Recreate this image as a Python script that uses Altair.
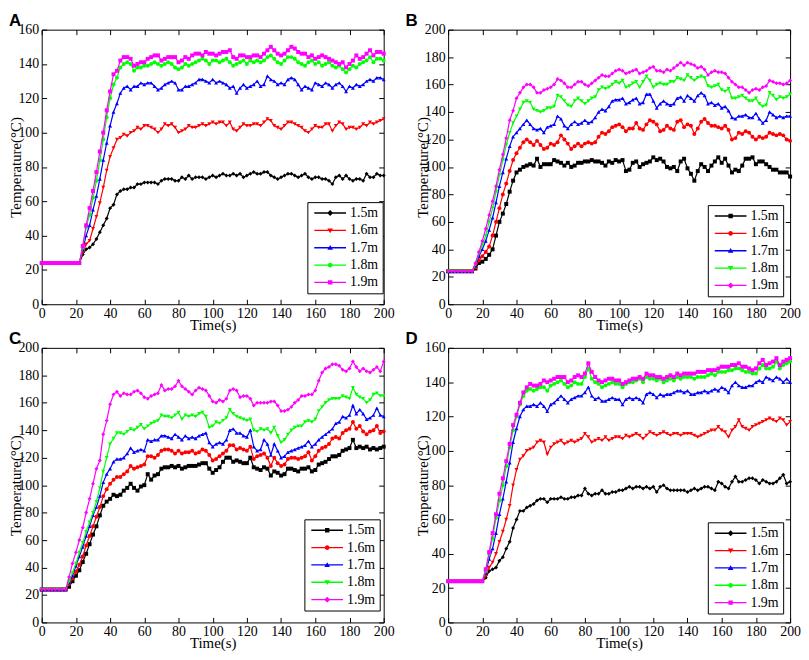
import altair as alt
import pandas as pd

TIME = list(range(0, 201, 2))
SERIES = ["1.5m", "1.6m", "1.7m", "1.8m", "1.9m"]
COLORS = ["#000000", "#ff0000", "#0000ff", "#00ff00", "#ff00ff"]
SHAPES_AD = ["diamond", "triangle-down", "triangle-up", "circle", "square"]
SHAPES_BC = ["square", "circle", "triangle-up", "triangle-down", "diamond"]
X_TICKS = list(range(0, 201, 20))

# ---------------- Panel A ----------------
A_15 = [24, 24, 24, 24, 24, 24, 24, 24, 24, 24,
        24, 24, 29, 32, 33, 35, 38, 42, 46, 50,
        56, 58, 64, 66, 67, 67, 68, 68, 70, 70,
        71, 71, 71, 71, 70, 72, 73, 73, 73, 72,
        72, 74, 73, 75, 73, 74, 74, 74, 73, 74,
        75, 74, 75, 76, 75, 75, 76, 75, 76, 74,
        75, 76, 77, 76, 76, 77, 77, 75, 74, 73,
        74, 75, 76, 76, 75, 74, 75, 76, 74, 73,
        74, 74, 73, 73, 72, 70, 74, 75, 73, 75,
        73, 72, 73, 73, 72, 76, 74, 74, 76, 75,
        75]
A_16 = [24, 24, 24, 24, 24, 24, 24, 24, 24, 24,
        24, 24, 30, 35, 37, 44, 51, 59, 68, 78,
        86, 91, 96, 97, 99, 98, 100, 101, 103, 102,
        104, 104, 103, 102, 100, 102, 105, 104, 105, 103,
        100, 101, 102, 104, 103, 103, 104, 105, 104, 105,
        106, 105, 106, 106, 104, 106, 102, 101, 103, 105,
        104, 104, 105, 105, 104, 106, 108, 107, 104, 103,
        102, 104, 106, 106, 105, 104, 103, 101, 100, 102,
        104, 103, 103, 105, 105, 101, 104, 106, 105, 102,
        103, 103, 102, 103, 105, 104, 106, 105, 106, 107,
        108]
A_17 = [24, 24, 24, 24, 24, 24, 24, 24, 24, 24,
        24, 24, 32, 40, 46, 55, 63, 73, 84, 94,
        104, 112, 117, 123, 126, 127, 125, 127, 127, 129,
        128, 129, 129, 127, 125, 126, 128, 129, 130, 129,
        125, 125, 127, 127, 128, 129, 131, 131, 130, 129,
        131, 129, 130, 129, 128, 126, 127, 123, 126, 128,
        126, 127, 128, 130, 127, 128, 133, 131, 130, 128,
        129, 128, 131, 132, 131, 128, 125, 127, 126, 125,
        129, 128, 127, 129, 128, 126, 128, 129, 127, 124,
        127, 126, 128, 127, 128, 130, 131, 130, 132, 132,
        131]
A_18 = [24, 24, 24, 24, 24, 24, 24, 24, 24, 24,
        24, 24, 33, 45, 52, 62, 72, 84, 96, 109,
        120, 128, 132, 138, 140, 141, 140, 136, 138, 138,
        139, 139, 140, 141, 140, 139, 140, 141, 140, 138,
        137, 138, 140, 139, 140, 141, 142, 143, 142, 140,
        142, 142, 141, 142, 143, 141, 139, 140, 141, 142,
        140, 142, 141, 142, 141, 142, 144, 145, 143, 141,
        140, 142, 144, 144, 143, 141, 140, 139, 141, 142,
        140, 141, 139, 140, 141, 139, 138, 139, 137, 135,
        137, 139, 138, 140, 141, 142, 144, 141, 143, 143,
        142]
A_19 = [24, 24, 24, 24, 24, 24, 24, 24, 24, 24,
        24, 24, 34, 46, 56, 66, 77, 89, 100, 113,
        124, 134, 136, 142, 144, 144, 143, 139, 140, 141,
        141, 143, 144, 145, 145, 142, 143, 144, 144, 144,
        141, 142, 144, 143, 145, 146, 146, 145, 147, 146,
        146, 145, 146, 147, 147, 148, 144, 143, 145, 145,
        144, 144, 145, 145, 144, 146, 148, 150, 148, 146,
        145, 146, 148, 150, 149, 147, 146, 146, 144, 145,
        143, 144, 145, 144, 143, 142, 141, 140, 141, 138,
        140, 142, 145, 143, 144, 146, 148, 145, 147, 147,
        146]

# ---------------- Panel B ----------------
B_15 = [24, 24, 24, 24, 24, 24, 24, 24, 26, 30,
        31, 33, 36, 40, 50, 60, 66, 73, 82, 90,
        96, 98, 100, 101, 102, 101, 106, 100, 102, 102,
        102, 105, 104, 103, 101, 103, 100, 101, 103, 103,
        104, 104, 105, 104, 104, 103, 101, 104, 103, 105,
        104, 105, 97, 98, 103, 104, 100, 102, 103, 104,
        107, 105, 106, 104, 100, 99, 100, 97, 104, 106,
        99, 95, 90, 97, 102, 100, 97, 101, 104, 107,
        103, 106, 101, 96, 98, 97, 101, 106, 106, 107,
        102, 104, 104, 102, 100, 98, 98, 96, 96, 96,
        93]
B_16 = [24, 24, 24, 24, 24, 24, 24, 24, 27, 32,
        35, 38, 42, 50, 60, 70, 80, 88, 97, 105,
        110, 114, 118, 120, 118, 116, 119, 116, 113, 114,
        117, 116, 118, 123, 120, 117, 113, 115, 117, 115,
        117, 118, 117, 118, 122, 125, 124, 126, 129, 130,
        131, 129, 126, 128, 128, 132, 128, 127, 131, 134,
        133, 131, 126, 127, 130, 128, 127, 133, 134, 129,
        131, 130, 124, 128, 133, 135, 132, 130, 130, 129,
        128, 130, 127, 120, 121, 125, 124, 126, 125, 122,
        120, 122, 121, 122, 125, 124, 123, 124, 123, 120,
        119]
B_17 = [24, 24, 24, 24, 24, 24, 24, 24, 28, 35,
        40, 46, 54, 63, 74, 86, 96, 106, 115, 122,
        125, 128, 131, 134, 131, 128, 127, 128, 125, 129,
        130, 131, 137, 135, 130, 128, 131, 133, 131, 132,
        134, 132, 133, 136, 140, 142, 141, 144, 148, 149,
        149, 150, 146, 147, 149, 150, 146, 147, 153, 153,
        148, 143, 146, 148, 146, 145, 146, 150, 151, 148,
        152, 150, 148, 152, 154, 152, 146, 147, 145, 146,
        143, 144, 141, 136, 135, 137, 137, 138, 136, 136,
        139, 135, 132, 134, 140, 138, 136, 137, 136, 137,
        137]
B_18 = [24, 24, 24, 24, 24, 24, 24, 24, 29, 37,
        43, 50, 60, 70, 82, 94, 105, 116, 125, 132,
        137, 142, 147, 148, 147, 142, 141, 140, 141, 143,
        143, 144, 152, 151, 148, 145, 144, 148, 150, 148,
        146, 148, 150, 151, 156, 158, 157, 158, 160, 162,
        161, 163, 158, 159, 161, 162, 158, 162, 166, 163,
        158, 160, 161, 160, 160, 162, 162, 165, 164, 163,
        167, 165, 163, 165, 166, 165, 159, 158, 159, 160,
        156, 155, 157, 150, 150, 151, 152, 150, 148, 148,
        150, 146, 144, 145, 154, 152, 149, 151, 150, 151,
        153]
B_19 = [24, 24, 24, 24, 24, 24, 24, 24, 30, 38,
        46, 55, 65, 75, 86, 98, 109, 121, 134, 141,
        150, 154, 158, 160, 160, 158, 154, 154, 156, 157,
        158, 160, 164, 163, 161, 158, 158, 160, 162, 162,
        160, 159, 161, 163, 165, 167, 166, 166, 168, 170,
        171, 170, 168, 169, 170, 171, 168, 169, 170, 172,
        173, 170, 170, 169, 171, 170, 172, 174, 176, 174,
        176, 175, 174, 172, 173, 171, 167, 169, 170, 169,
        169, 168, 165, 162, 160, 158, 158, 156, 154, 156,
        157, 156, 158, 159, 163, 162, 161, 161, 160, 161,
        163]

# ---------------- Panel C ----------------
C_15 = [24, 24, 24, 24, 24, 24, 24, 24, 26, 30,
        34, 38, 44, 50, 57, 64, 70, 78, 85, 88,
        90, 93, 92, 93, 96, 98, 101, 98, 96, 99,
        100, 108, 104, 107, 108, 112, 113, 113, 114, 113,
        114, 112, 113, 114, 114, 114, 115, 116, 116, 112,
        109, 111, 113, 117, 120, 120, 117, 118, 117, 116,
        116, 120, 113, 112, 111, 113, 112, 107, 110, 109,
        107, 108, 112, 112, 111, 110, 112, 112, 113, 110,
        111, 115, 116, 117, 119, 121, 121, 122, 125, 126,
        127, 133, 127, 128, 127, 128, 126, 127, 126, 127,
        128]
C_16 = [24, 24, 24, 24, 24, 24, 24, 24, 28, 32,
        37, 42, 48, 56, 63, 70, 77, 84, 92, 97,
        101, 104, 106, 106, 108, 110, 114, 112, 113, 114,
        115, 121, 121, 120, 122, 125, 126, 126, 125, 123,
        125, 123, 124, 124, 125, 123, 124, 126, 125, 122,
        118, 119, 121, 123, 125, 129, 129, 126, 127, 126,
        125, 128, 119, 121, 122, 123, 120, 114, 120, 116,
        114, 115, 119, 120, 120, 119, 120, 121, 124, 118,
        121, 125, 127, 128, 130, 134, 135, 134, 138, 140,
        141, 146, 141, 143, 139, 137, 139, 140, 143, 138,
        139]
C_17 = [24, 24, 24, 24, 24, 24, 24, 24, 29, 34,
        41, 48, 55, 63, 70, 78, 84, 92, 102, 108,
        112, 117, 119, 119, 120, 123, 127, 124, 125, 126,
        125, 133, 132, 133, 133, 136, 136, 135, 134, 137,
        135, 133, 136, 134, 135, 134, 136, 137, 138, 131,
        128, 130, 131, 130, 133, 140, 141, 138, 138, 136,
        135, 140, 128, 125, 126, 133, 130, 122, 130, 125,
        120, 121, 124, 125, 126, 127, 128, 129, 132, 128,
        130, 133, 135, 137, 139, 141, 145, 146, 150, 149,
        151, 158, 152, 155, 152, 148, 149, 151, 156, 151,
        150]
C_18 = [24, 24, 24, 24, 24, 24, 24, 24, 30, 36,
        43, 51, 58, 66, 73, 80, 88, 98, 110, 120,
        130, 134, 138, 138, 137, 139, 141, 140, 142, 144,
        141, 143, 145, 146, 147, 151, 150, 150, 149, 151,
        153, 148, 151, 150, 151, 150, 152, 153, 150, 142,
        143, 146, 145, 147, 149, 155, 152, 150, 149, 148,
        147, 148, 140, 139, 141, 140, 141, 138, 142, 136,
        131, 133, 137, 140, 142, 143, 143, 146, 147, 146,
        148, 154, 157, 160, 162, 163, 163, 163, 165, 164,
        163, 171, 166, 164, 163, 160, 162, 166, 167, 165,
        165]
C_19 = [24, 24, 24, 24, 24, 24, 24, 24, 33, 43,
        51, 60, 69, 80, 90, 101, 112, 118, 137, 147,
        159, 166, 168, 165, 167, 166, 166, 168, 169, 167,
        164, 163, 165, 166, 167, 173, 169, 170, 170, 172,
        176, 172, 170, 168, 166, 169, 171, 170, 169, 165,
        161, 160, 162, 161, 163, 169, 170, 169, 164, 165,
        165, 163, 158, 160, 160, 160, 160, 161, 161, 158,
        154, 154, 155, 157, 160, 162, 165, 165, 166, 166,
        169, 176, 182, 185, 186, 188, 188, 187, 184, 183,
        185, 190, 186, 183, 185, 183, 182, 184, 186, 183,
        190]

# ---------------- Panel D ----------------
D_15 = [24, 24, 24, 24, 24, 24, 24, 24, 24, 24,
        24, 26, 30, 31, 32, 36, 38, 43, 47, 55,
        60, 65, 65, 67, 68, 69, 71, 72, 72, 70,
        72, 72, 72, 73, 72, 72, 73, 73, 74, 74,
        78, 75, 74, 75, 75, 77, 75, 75, 76, 76,
        77, 77, 78, 79, 78, 79, 79, 78, 79, 78,
        79, 76, 79, 80, 78, 77, 77, 77, 77, 77,
        76, 77, 78, 77, 78, 79, 79, 78, 77, 82,
        81, 79, 78, 82, 85, 82, 82, 83, 84, 84,
        83, 81, 83, 82, 81, 81, 82, 84, 86, 81,
        82]
D_16 = [24, 24, 24, 24, 24, 24, 24, 24, 24, 24,
        24, 27, 32, 35, 40, 47, 53, 60, 68, 80,
        89, 95, 97, 100, 101, 102, 105, 106, 105, 98,
        102, 104, 105, 106, 104, 105, 106, 105, 106, 107,
        110, 108, 105, 106, 107, 106, 108, 106, 107, 108,
        108, 107, 109, 108, 109, 110, 109, 107, 109, 111,
        110, 109, 110, 111, 110, 109, 110, 110, 109, 110,
        110, 110, 109, 108, 109, 110, 111, 112, 112, 114,
        112, 111, 108, 112, 114, 118, 114, 113, 112, 114,
        115, 116, 117, 118, 119, 118, 117, 119, 118, 115,
        117]
D_17 = [24, 24, 24, 24, 24, 24, 24, 24, 24, 24,
        24, 29, 37, 43, 52, 63, 72, 82, 93, 105,
        113, 120, 124, 126, 126, 127, 126, 128, 126, 123,
        127, 128, 130, 132, 130, 128, 130, 131, 132, 132,
        134, 137, 132, 130, 131, 129, 129, 130, 131, 130,
        130, 127, 130, 131, 130, 131, 130, 128, 133, 134,
        133, 131, 133, 132, 133, 133, 134, 135, 135, 134,
        135, 133, 133, 134, 134, 135, 134, 135, 136, 135,
        137, 136, 134, 138, 140, 138, 137, 137, 138, 138,
        140, 141, 140, 143, 142, 141, 143, 142, 140, 142,
        140]
D_18 = [24, 24, 24, 24, 24, 24, 24, 24, 24, 24,
        24, 30, 40, 49, 61, 71, 80, 91, 102, 112,
        120, 127, 132, 135, 136, 135, 136, 137, 137, 135,
        138, 139, 140, 141, 139, 137, 138, 140, 139, 139,
        143, 148, 142, 140, 139, 137, 138, 139, 140, 139,
        139, 137, 139, 140, 140, 141, 142, 140, 143, 142,
        142, 141, 142, 140, 141, 142, 141, 143, 142, 143,
        143, 143, 142, 143, 143, 143, 144, 145, 144, 146,
        146, 146, 147, 147, 148, 148, 147, 146, 146, 145,
        145, 148, 150, 148, 148, 149, 152, 148, 150, 151,
        152]
D_19 = [24, 24, 24, 24, 24, 24, 24, 24, 24, 24,
        24, 31, 41, 52, 63, 75, 84, 94, 104, 115,
        121, 128, 134, 137, 139, 138, 138, 139, 141, 140,
        141, 142, 143, 143, 143, 140, 141, 143, 144, 143,
        145, 151, 146, 143, 141, 140, 141, 142, 142, 141,
        141, 139, 140, 141, 142, 142, 143, 142, 145, 144,
        144, 143, 143, 142, 143, 144, 143, 145, 144, 145,
        145, 145, 145, 146, 146, 146, 147, 147, 147, 148,
        149, 149, 149, 150, 150, 151, 149, 149, 148, 147,
        148, 151, 153, 150, 151, 152, 154, 150, 152, 153,
        154]

W, H = 345, 277
SERIF = "Liberation Serif"

# legend symbol geometry (line segment + marker), unit coordinates
LEG_LINE = "M-1,-0.17L7,-0.17L7,0.17L-1,0.17Z"
LEG_MARK = {
    "diamond": "M3,-0.75L3.75,0L3,0.75L2.25,0Z",
    "triangle-up": "M3,-0.7L3.7,0.5L2.3,0.5Z",
    "triangle-down": "M2.3,-0.5L3.7,-0.5L3,0.7Z",
    "square": "M2.45,-0.55L3.55,-0.55L3.55,0.55L2.45,0.55Z",
    "circle": "M3.6,0A0.6,0.6 0 1,1 2.4,0A0.6,0.6 0 1,1 3.6,0Z",
}


def make_panel(letter, arrays, ymax, shapes, lx, ly, dx):
    rows = []
    for name, vals in zip(SERIES, arrays):
        for t, v in zip(TIME, vals):
            rows.append({"t": t, "T": v, "s": name})
    df = pd.DataFrame(rows)
    base = alt.Chart(df)
    xs = alt.Scale(domain=[0, 200], nice=False)
    ys = alt.Scale(domain=[0, ymax], nice=False)
    yv = list(range(0, ymax + 1, 20))

    label_layer = base.mark_point(opacity=0, size=1).encode(
        x=alt.X("t:Q", scale=xs, axis=alt.Axis(
            orient="bottom", values=X_TICKS, ticks=False, domain=False, grid=False,
            labelFlush=False, labelFont=SERIF, labelFontSize=14, labelColor="black",
            labelPadding=2, title="Time(s)", titleFont=SERIF, titleFontSize=15,
            titleFontWeight="normal", titleColor="black", titlePadding=-3)),
        y=alt.Y("T:Q", scale=ys, axis=alt.Axis(
            orient="left", values=yv, ticks=False, domain=False, grid=False,
            labelFlush=False, labelFont=SERIF, labelFontSize=14, labelColor="black",
            labelPadding=3, title="Temperature(°C)", titleFont=SERIF,
            titleFontSize=15, titleFontWeight="normal", titleColor="black",
            titleX=-26, titleY=H / 2, titleAngle=270, titleAlign="center",
            titleBaseline="middle")),
    )

    def tick_axis(orient, vals, off):
        return alt.Axis(orient=orient, values=vals, offset=off, labels=False,
                        ticks=True, tickSize=5, tickColor="black", tickWidth=1,
                        domain=False, grid=False, title=None)

    ticks1 = base.mark_point(opacity=0, size=1).encode(
        x=alt.X("t:Q", scale=xs, axis=tick_axis("top", X_TICKS, -H)),
        y=alt.Y("T:Q", scale=ys, axis=tick_axis("right", yv, -W)),
    )
    ticks2 = base.mark_point(opacity=0, size=1).encode(
        x=alt.X("t:Q", scale=xs, axis=tick_axis("bottom", X_TICKS, -H)),
        y=alt.Y("T:Q", scale=ys, axis=tick_axis("left", yv, -W)),
    )

    series_layers = []
    for name, col, shp in zip(SERIES, COLORS, shapes):
        series_layers.append(
            base.transform_filter(alt.datum.s == name).mark_line(
                color=col, strokeWidth=1.2,
                point=alt.OverlayMarkDef(shape=shp, size=16, filled=True,
                                         color=col, opacity=1),
            ).encode(
                x=alt.X("t:Q", scale=xs, axis=None),
                y=alt.Y("T:Q", scale=ys, axis=None),
            )
        )

    leg = alt.Legend(title=None, orient="none", legendX=lx, legendY=ly,
                     symbolSize=64, symbolStrokeWidth=0, symbolOpacity=1,
                     labelFont=SERIF, labelFontSize=14, labelColor="black",
                     labelOffset=25, rowPadding=3.5, padding=4,
                     strokeColor="black", fillColor="white")
    # legend-only layer: draws no marks (filter keeps no rows), scales use fixed domains
    legend_layer = base.transform_filter(alt.datum.t < 0).mark_point(
        filled=True, opacity=0, size=1
    ).encode(
        x=alt.X("t:Q", scale=xs, axis=None),
        y=alt.Y("T:Q", scale=ys, axis=None),
        fill=alt.Fill("s:N", scale=alt.Scale(domain=SERIES, range=COLORS), legend=leg),
        shape=alt.Shape("s:N", scale=alt.Scale(
            domain=SERIES, range=[LEG_LINE + LEG_MARK[s] for s in shapes]), legend=leg),
    )

    return alt.layer(label_layer, ticks1, ticks2, *series_layers, legend_layer).resolve_axis(
        x="independent", y="independent"
    ).properties(
        width=W, height=H,
        title=alt.TitleParams(letter, anchor="start", frame="group", dx=dx, offset=-20,
                              baseline="alphabetic", font="Liberation Sans",
                              fontSize=17, fontWeight="bold", color="black"),
    )


pA = make_panel("A", [A_15, A_16, A_17, A_18, A_19], 160, SHAPES_AD, 268, 174, -33)
pB = make_panel("B", [B_15, B_16, B_17, B_18, B_19], 200, SHAPES_BC, 262, 177, -43)
pC = make_panel("C", [C_15, C_16, C_17, C_18, C_19], 200, SHAPES_BC, 265, 173, -33)
pD = make_panel("D", [D_15, D_16, D_17, D_18, D_19], 160, SHAPES_AD, 262, 176, -43)

chart = alt.concat(
    pA, pB, pC, pD, columns=2, spacing={"row": 44, "column": 65}, bounds="flush"
).resolve_scale(
    fill="independent", shape="independent"
).resolve_legend(
    fill="independent", shape="independent"
).properties(
    padding=0, background="white"
).configure_view(
    stroke="black", strokeWidth=1
)

chart.save("out.html", embed_options={"renderer": "svg", "actions": False})
